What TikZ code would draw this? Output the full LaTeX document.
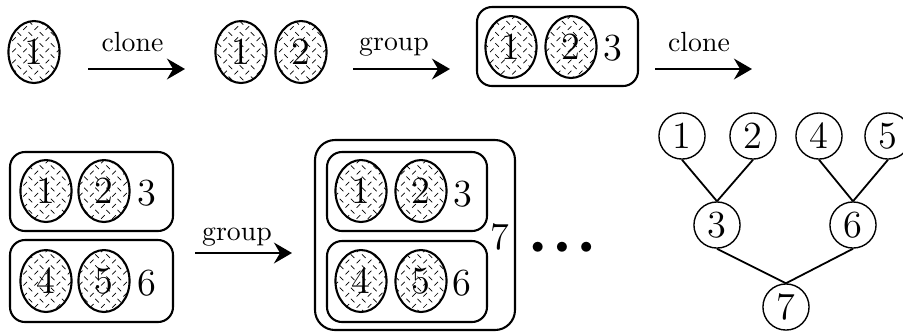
\documentclass[tikz,border=0pt]{standalone}
\usetikzlibrary{shapes.geometric,patterns,arrows.meta}
\pgfdeclarepatternformonly{plate}{\pgfqpoint{-0.1pt}{-0.1pt}}{\pgfqpoint{4.1pt}{4.1pt}}{\pgfqpoint{4pt}{4pt}}{%
  \pgfsetlinewidth{0.25pt}%
  \pgfpathmoveto{\pgfqpoint{0.4pt}{0.4pt}}\pgfpathlineto{\pgfqpoint{1.7pt}{1.7pt}}%
  \pgfpathmoveto{\pgfqpoint{2.3pt}{3.6pt}}\pgfpathlineto{\pgfqpoint{3.6pt}{2.3pt}}%
  \pgfusepath{stroke}}
\begin{document}
\begin{tikzpicture}[x=0.36pt,y=-0.36pt,
  dig/.style={font=\fontsize{13.8}{16}\selectfont, inner sep=0pt},
  cell/.style={dig, ellipse, draw, line width=0.75pt, pattern=plate, minimum width=18.4pt, minimum height=22.3pt},
  grp/.style={draw, line width=0.75pt, rounded corners=5.4pt, inner sep=0pt},
  biggrp/.style={draw, line width=0.75pt, rounded corners=7.2pt, inner sep=0pt},
  tnode/.style={dig, circle, draw, line width=0.5pt, minimum size=16.6pt},
  op/.style={line width=0.75pt, -{Stealth[length=6.5pt,width=7.5pt,inset=2.2pt]}},
  lbl/.style={font=\fontsize{10}{12}\selectfont, inner sep=0pt, anchor=base},
  tedge/.style={line width=0.65pt}]
\useasboundingbox (0,0) rectangle (903,331);
% ---- top row ----
\node[cell] (a1) at (34,52) {1};
\coordinate (o1s) at (88,69); \coordinate (o1e) at (185,69);
\draw[op] (o1s) -- (o1e);
\node[lbl] (l1) at (132.5,51) {clone};
\node[cell] (b1) at (241,52) {1};
\node[cell] (b2) at (301,52) {2};
\coordinate (o2s) at (353,69); \coordinate (o2e) at (450,69);
\draw[op] (o2s) -- (o2e);
\node[lbl] (l2) at (394,50) {group};
\node[grp, minimum width=57.96pt, minimum height=28.44pt] (cbox) at (557.5,46.5) {};
\node[cell] (c1) at (511,47) {1};
\node[cell] (c2) at (571,47) {2};
\node[dig] (c3) at (613,48) {3};
\coordinate (o3s) at (655,69); \coordinate (o3e) at (752,69);
\draw[op] (o3s) -- (o3e);
\node[lbl] (l3) at (699,51) {clone};
% ---- bottom left ----
\node[grp, minimum width=58.68pt, minimum height=28.44pt] (dboxa) at (91.5,191.5) {};
\node[grp, minimum width=58.68pt, minimum height=29.52pt] (dboxb) at (91.5,281) {};
\node[cell] (d1) at (46,191) {1};
\node[cell] (d2) at (104,191) {2};
\node[dig] (d3) at (147,193) {3};
\node[cell] (d4) at (46,281) {4};
\node[cell] (d5) at (104,281) {5};
\node[dig] (d6) at (147,283) {6};
\coordinate (o4s) at (195,253); \coordinate (o4e) at (292,253);
\draw[op] (o4s) -- (o4e);
\node[lbl] (l4) at (237,240) {group};
% ---- middle ----
\node[biggrp, minimum width=72pt, minimum height=68.4pt] (ebig) at (415,235) {};
\node[grp, minimum width=57.6pt, minimum height=28.44pt] (eboxa) at (407,191.5) {};
\node[grp, minimum width=57.6pt, minimum height=29.16pt] (eboxb) at (407,281.5) {};
\node[cell] (e1) at (361,191) {1};
\node[cell] (e2) at (421,191) {2};
\node[dig] (e3) at (463,194) {3};
\node[cell] (e4) at (361,281) {4};
\node[cell] (e5) at (421,281) {5};
\node[dig] (e6) at (462,283) {6};
\node[dig] (e7) at (500,237) {7};
\node[inner sep=0pt, anchor=base, font=\fontsize{9}{9}\selectfont] (dots) at (562,253) {${\bullet}\mkern8mu{\bullet}\mkern8mu{\bullet}$};
% ---- tree ----
\node[tnode] (t1) at (682,136) {1};
\node[tnode] (t2) at (753,136) {2};
\node[tnode] (t4) at (819,136) {4};
\node[tnode] (t5) at (888,136) {5};
\node[tnode] (t3) at (717,225) {3};
\node[tnode] (t6) at (853,225) {6};
\node[tnode] (t7) at (786,307) {7};
\draw[tedge] (t3.north) -- (t1.south);
\draw[tedge] (t3.north) -- (t2.south);
\draw[tedge] (t6.north) -- (t4.south);
\draw[tedge] (t6.north) -- (t5.south);
\draw[tedge] (t7.north) -- (t3.south);
\draw[tedge] (t7.north) -- (t6.south);
\end{tikzpicture}
\end{document}
